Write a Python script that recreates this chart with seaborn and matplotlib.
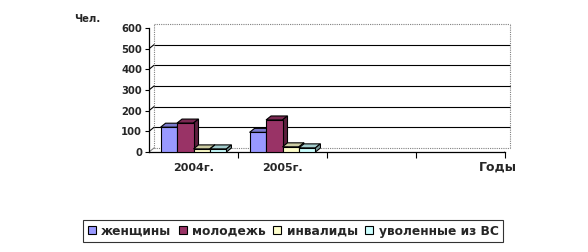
import numpy as np
import pandas as pd
import matplotlib
matplotlib.use("Agg")
import matplotlib.pyplot as plt
import seaborn as sns
from matplotlib.transforms import offset_copy, IdentityTransform
from matplotlib.lines import Line2D
from matplotlib.patches import Polygon
from matplotlib.colors import to_rgb

# ---- data ----
years = ["2004г.", "2005г."]
series = ["женщины", "молодежь", "инвалиды", "уволенные из ВС"]
women = [120, 95]
youth = [140, 155]
disabled = [15, 25]
discharged = [15, 20]
yticks = [0, 100, 200, 300, 400, 500, 600]
colors = ["#9999FF", "#993366", "#FFFFCC", "#CCFFFF"]

df = pd.DataFrame({
    "year": years * 4,
    "group": [s for s in series for _ in years],
    "value": women + youth + disabled + discharged,
})

sns.set_theme(style="white")
plt.rcParams["font.family"] = ["DejaVu Sans"]

W, H, DPI = 588, 252, 100
fig = plt.figure(figsize=(W / DPI, H / DPI), dpi=DPI)
ax = fig.add_axes([149 / W, 1 - 152 / H, (505 - 149) / W, (152 - 28) / H])
ax.set_facecolor("none")

sns.barplot(data=df, x="year", y="value", hue="group", order=years,
            hue_order=series, palette=colors, width=0.74, ax=ax,
            edgecolor="black", linewidth=0.8, saturation=1, legend=True)

ax.set_xlim(-0.5, 3.5)
ax.set_ylim(0, 600)
ax.set_xlabel("")
ax.set_ylabel("")

DX, DY = 5, 4  # pseudo-3D depth in pixels

# back wall grid
back = offset_copy(ax.get_yaxis_transform(), fig=fig, x=DX, y=DY, units="dots")
for v in yticks:
    if v in (0, yticks[-1]):
        ax.plot([0, 1], [v, v], transform=back, color="#808080", lw=0.8,
                ls=(0, (1, 1)), clip_on=False, zorder=0.5)
    else:
        ax.plot([0, 1], [v, v], transform=back, color="black", lw=0.8,
                clip_on=False, zorder=0.5)
for xa in (0, 1):
    ax.plot([xa, xa], [0, yticks[-1]], transform=back, color="#808080", lw=0.8,
            ls=(0, (1, 1)), clip_on=False, zorder=0.5)
# side-wall diagonals
yt = ax.get_yaxis_transform()
for v in yticks:
    p = yt.transform((0, v))
    ax.add_line(Line2D([p[0], p[0] + DX], [p[1], p[1] + DY], transform=IdentityTransform(),
                       color="black" if 0 < v < yticks[-1] else "#808080", lw=0.8, zorder=0.5))
p = yt.transform((1, 0))
ax.add_line(Line2D([p[0], p[0] + DX], [p[1], p[1] + DY], transform=IdentityTransform(),
                   color="black", lw=0.8, zorder=0.5))

# 3D faces for bars
n_years = len(years)
for i, bar in enumerate(ax.patches[: len(series) * n_years]):
    k = i // n_years
    base = np.array(to_rgb(colors[k]))
    x0, y0 = bar.get_x(), bar.get_y()
    x1, y1 = x0 + bar.get_width(), y0 + bar.get_height()
    (X0, Y0), (X1, Y1) = ax.transData.transform([(x0, y0), (x1, y1)])
    top = Polygon([(X0, Y1), (X1, Y1), (X1 + DX, Y1 + DY), (X0 + DX, Y1 + DY)],
                  closed=True, transform=IdentityTransform(), facecolor=base * 0.8,
                  edgecolor="black", lw=0.8, zorder=2 + 2 * k)
    side = Polygon([(X1, Y0), (X1 + DX, Y0 + DY), (X1 + DX, Y1 + DY), (X1, Y1)],
                   closed=True, transform=IdentityTransform(), facecolor=base * 0.6,
                   edgecolor="black", lw=0.8, zorder=2 + 2 * k)
    ax.add_patch(top)
    ax.add_patch(side)
    bar.set_zorder(3 + 2 * k)

# axes styling
for s in ("top", "right"):
    ax.spines[s].set_visible(False)
for s in ("left", "bottom"):
    ax.spines[s].set_color("black")
    ax.spines[s].set_linewidth(0.9)

ax.set_yticks(yticks)
ax.set_yticklabels([str(v) for v in yticks], fontsize=7.2, fontweight="bold")
ax.tick_params(axis="y", length=3, width=0.8, color="black", pad=2, left=True)

ax.set_xticks([0.5, 1.5, 2.5, 3.5])
ax.set_xticklabels([])
ax.tick_params(axis="x", which="major", length=4, width=0.8, color="black", bottom=True)
ax.set_xticks(range(n_years), minor=True)
ax.set_xticklabels(years, minor=True, fontsize=8, fontweight="bold")
ax.tick_params(axis="x", which="minor", length=0, pad=8)

fig.text(100 / W, 1 - 19 / H, "Чел.", ha="right", va="center", fontsize=7.3, fontweight="bold")
fig.text(498 / W, 1 - 167 / H, "Годы", ha="center", va="center", fontsize=9, fontweight="bold")

handles, labels = ax.get_legend_handles_labels()
ax.get_legend().remove()
leg = fig.legend(handles, labels, loc="center", bbox_to_anchor=(293 / W, 1 - 231 / H),
                 bbox_transform=fig.transFigure, ncol=4, frameon=True,
                 prop={"weight": "bold", "size": 8.8},
                 fancybox=False, edgecolor="black", handlelength=0.65, handleheight=0.65,
                 handletextpad=0.45, columnspacing=0.6, borderpad=0.4, borderaxespad=0)
leg.get_frame().set_linewidth(0.8)
for h in leg.legend_handles:
    h.set_edgecolor("black")
    h.set_linewidth(0.8)

fig.savefig("out.png", dpi=DPI)
